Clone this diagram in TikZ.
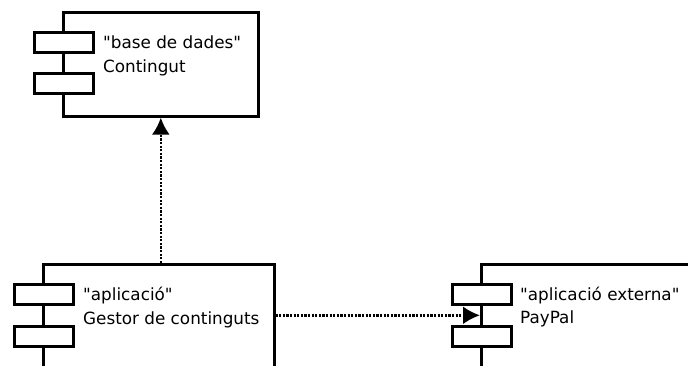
\documentclass[tikz,border=0pt]{standalone}
\usepackage{fontspec}
\setmainfont{DejaVu Sans}
\usetikzlibrary{arrows.meta,calc}
\begin{document}
\begin{tikzpicture}[x=1pt,y=-1pt,
  comp/.style={draw=black,line width=2.6pt,fill=white,rectangle,inner sep=0pt,anchor=north west},
  port/.style={draw=black,line width=2.6pt,fill=white,rectangle,inner sep=0pt,anchor=north west,minimum width=59pt,minimum height=20pt},
  lbl/.style={anchor=base west,inner sep=0pt,font=\fontsize{16.8}{24}\selectfont},
  dep/.style={line width=2.6pt,dash pattern=on 2.2pt off 1.4pt,-{Latex[length=17pt,width=18pt]}}]
\useasboundingbox (0,0) rectangle (688,365);
\clip (0,0) rectangle (688,365);
\fill[white] (0,0) rectangle (688,365);
% top component
\node[comp,minimum width=195pt,minimum height=104pt] (bd) at (62,11) {};
\node[port] (bdp1) at (33,31) {};
\node[port] (bdp2) at (33,72) {};
\node[lbl] (bdt1) at (103,48) {\textquotedbl base de dades\textquotedbl};
\node[lbl] (bdt2) at (103,72) {Contingut};
% bottom-left component
\node[comp,minimum width=231pt,minimum height=130pt] (app) at (42,263) {};
\node[port] (appp1) at (13,283) {};
\node[port] (appp2) at (13,325) {};
\node[lbl] (appt1) at (83,300) {\textquotedbl aplicació\textquotedbl};
\node[lbl] (appt2) at (83,324) {Gestor de continguts};
% right component
\node[comp,minimum width=240pt,minimum height=130pt] (pay) at (480,263) {};
\node[port] (payp1) at (451,283) {};
\node[port] (payp2) at (451,325) {};
\node[lbl] (payt1) at (520,300) {\textquotedbl aplicació externa\textquotedbl};
\node[lbl] (payt2) at (520,323) {PayPal};
% connectors
\coordinate (mid) at ($(payp1.south)!0.5!(payp2.north)$);
\draw[dep] (app.north -| bd.south) -- (bd.south);
\draw[dep] (app.east |- mid) -- (pay.west |- mid);
\end{tikzpicture}
\end{document}
